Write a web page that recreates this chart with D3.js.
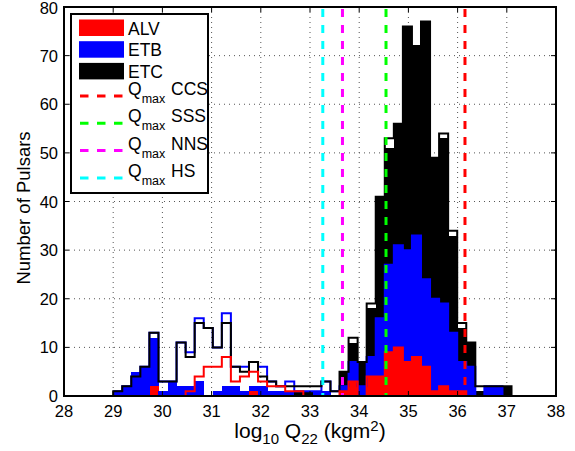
<!DOCTYPE html>
<html><head><meta charset="utf-8">
<script src="https://cdn.jsdelivr.net/npm/d3@7"></script>
<style>body{margin:0;background:#fff} svg{display:block} text{font-family:"Liberation Sans",Arial,Helvetica,sans-serif;fill:#000}</style>
</head><body>
<svg id="chart" width="575" height="451"></svg>
<script>
// ---- data ----
const binEdges = [29.000,29.184,29.368,29.552,29.736,29.920,30.104,30.288,30.472,30.656,30.840,31.024,31.208,31.392,31.576,31.760,31.944,32.128,32.312,32.496,32.680,32.864,33.048,33.232,33.416,33.600,33.784,33.968,34.152,34.336,34.520,34.704,34.888,35.072,35.256,35.440,35.624,35.808,35.992,36.176,36.360,36.544,36.728,36.912,37.096];
// filled stacked counts per bin
const alvCounts = [0,0,0,0,2,0,0,0,0,0,0,0,0,0,0,1,0,0,0,0,0,0,0,0,0,1,3,0,4,4,9,10,7,8,6,1,2,1,1,0,0,0,0,0];
const etbCounts = [1,2,5,6,10,1,3,2,2,3,0,1,2,2,1,1,2,1,1,1,0,0,1,1,0,1,4,2,4,12,18,21,23,25,18,19,17,12,6,6,0,2,2,0];
const etcCounts = [0,0,0,0,0,0,0,0,0,0,0,0,0,0,0,0,0,0,0,0,1,1,0,0,0,3,4,5,10,25,24,25,46,39,53,29,34,20,7,5,1,0,0,2];
// outline (stairs) histograms
const outlineBlack = [1,2,4,6,13,3,3,11,8,15,14,10,15,6,5,7,4,3,2,2,2,2,2,3,1,5,12,7,19,41,53,56,76,72,77,49,54,34,15,11,2,2,2,2];
const outlineBlue  = [1,2,4,6,13,3,3,11,9,16,14,10,17,6,6,7,6,3,2,3,1,1,1,3,1,2,7,2,8,16,27,31,30,33,24,20,19,13,7,6,0,2,2,0];
const outlineRed   = [0,0,0,0,0,0,0,0,1,4,6,6,8,3,4,5,3,2,2,1,1,0,0,0,0,1,3,0,4,4,9,10,7,8,6,1,2,1,1,0,0,0,0,0];
// Qmax limits
const qmaxLabels = ["CCS","SSS","NNS","HS"];
const qmaxValues = [36.15, 34.545, 33.66, 33.26];
const seriesNames = ["ALV","ETB","ETC"];
const xTicks = [28,29,30,31,32,33,34,35,36,37,38];
const yTicks = [0,10,20,30,40,50,60,70,80];

// ---- styles ----
const fillColors = ["#ff0000","#0000ff","#000000"];
const qColors = ["#ff0000","#00ff00","#ff00ff","#00ffff"];

const svg = d3.select("#chart");
const L = 64, R = 556, T = 7, B = 396;
const x = d3.scaleLinear().domain([28,38]).range([L,R]);
const y = d3.scaleLinear().domain([0,80]).range([B,T]);

// grid
const grid = svg.append("g").attr("stroke","#555").attr("stroke-width",1).attr("stroke-dasharray","1,4");
xTicks.slice(1,-1).forEach(v=>grid.append("line").attr("x1",x(v)).attr("x2",x(v)).attr("y1",T).attr("y2",B));
yTicks.slice(1,-1).forEach(v=>grid.append("line").attr("x1",L).attr("x2",R).attr("y1",y(v)).attr("y2",y(v)));

// stacked bars
const rows = binEdges.slice(0,-1).map((e,i)=>({x0:e,x1:binEdges[i+1],ALV:alvCounts[i],ETB:etbCounts[i],ETC:etcCounts[i]}));
const stack = d3.stack().keys(seriesNames)(rows);
const bars = svg.append("g").attr("shape-rendering","crispEdges");
stack.forEach((layer,k)=>{
  bars.selectAll(null).data(layer.filter(d=>d[1]>d[0])).enter().append("rect")
    .attr("x",d=>x(d.data.x0)).attr("width",d=>x(d.data.x1)-x(d.data.x0)+0.5)
    .attr("y",d=>y(d[1])).attr("height",d=>y(d[0])-y(d[1]))
    .attr("fill",fillColors[k]);
});

// stairs outlines
function stairs(vals, from, to){
  const pts = [];
  if(from!==null) pts.push([from,0]);
  vals.forEach((v,i)=>pts.push([binEdges[i],v]));
  pts.push([binEdges[binEdges.length-1],0]);
  if(to!==null) pts.push([to,0]);
  return d3.line().x(d=>x(d[0])).y(d=>y(d[1])).curve(d3.curveStepAfter)(pts);
}
svg.append("path").attr("d",stairs(outlineBlue,null,null)).attr("fill","none").attr("stroke","#0000ff").attr("stroke-width",2);
svg.append("path").attr("d",stairs(outlineBlack,28,38)).attr("fill","none").attr("stroke","#000").attr("stroke-width",2);
svg.append("path").attr("d",stairs(outlineRed,null,null)).attr("fill","none").attr("stroke","#ff0000").attr("stroke-width",2);

// Qmax lines
qmaxValues.forEach((v,i)=>{
  svg.append("line").attr("x1",x(v)).attr("x2",x(v)).attr("y1",T+2).attr("y2",B)
    .attr("stroke",qColors[i]).attr("stroke-width",3).attr("stroke-dasharray","8,8");
});

// frame & ticks
svg.append("rect").attr("x",L).attr("y",T).attr("width",R-L).attr("height",B-T).attr("fill","none").attr("stroke","#000").attr("stroke-width",2);
const tk = svg.append("g").attr("stroke","#000").attr("stroke-width",1);
xTicks.forEach(v=>{
  tk.append("line").attr("x1",x(v)).attr("x2",x(v)).attr("y1",B).attr("y2",B-5);
  tk.append("line").attr("x1",x(v)).attr("x2",x(v)).attr("y1",T).attr("y2",T+5);
});
yTicks.forEach(v=>{
  tk.append("line").attr("x1",L).attr("x2",L+5).attr("y1",y(v)).attr("y2",y(v));
  tk.append("line").attr("x1",R).attr("x2",R-5).attr("y1",y(v)).attr("y2",y(v));
});
svg.append("g").selectAll("text").data(xTicks).enter().append("text")
  .attr("x",d=>x(d)).attr("y",B+21).attr("text-anchor","middle").attr("font-size",16.5).text(d=>d);
svg.append("g").selectAll("text").data(yTicks).enter().append("text")
  .attr("x",L-6).attr("y",d=>y(d)+6).attr("dy",d=>d===80?1:0).attr("text-anchor","end").attr("font-size",16.5).text(d=>d);

// axis labels
const xl = svg.append("text").attr("x",310).attr("y",438).attr("text-anchor","middle").attr("font-size",21);
xl.append("tspan").text("log");
xl.append("tspan").attr("font-size",15).attr("dy",6).text("10");
xl.append("tspan").attr("dy",-6).text(" Q");
xl.append("tspan").attr("font-size",15).attr("dy",6).text("22");
xl.append("tspan").attr("dy",-6).text(" (kgm");
xl.append("tspan").attr("font-size",15).attr("dy",-7).text("2");
xl.append("tspan").attr("dy",7).text(")");
svg.append("text").attr("transform","translate(30,208) rotate(-90)").attr("text-anchor","middle").attr("font-size",18.5).text("Number of Pulsars");

// legend
const lg = svg.append("g");
lg.append("rect").attr("x",71).attr("y",14).attr("width",137).attr("height",179).attr("fill","#fff").attr("stroke","#000").attr("stroke-width",2);
seriesNames.forEach((n,i)=>{
  const yy = 19.5 + i*21.7;
  lg.append("rect").attr("x",79).attr("y",yy).attr("width",45).attr("height",16.5).attr("fill",fillColors[i]);
  lg.append("text").attr("x",128).attr("y",yy+15).attr("font-size",17.5).text(n);
});
qmaxLabels.forEach((n,i)=>{
  const yy = 96 + i*27.3;
  lg.append("line").attr("x1",80).attr("x2",123).attr("y1",yy).attr("y2",yy).attr("stroke",qColors[i]).attr("stroke-width",3).attr("stroke-dasharray","8.5,8.5");
  const t = lg.append("text").attr("x",128).attr("y",yy-1).attr("font-size",17.5);
  t.append("tspan").text("Q");
  t.append("tspan").attr("font-size",12.5).attr("dy",8).text("max");
  t.append("tspan").attr("x",171).attr("dy",-8).text(n);
});
</script>
</body></html>
